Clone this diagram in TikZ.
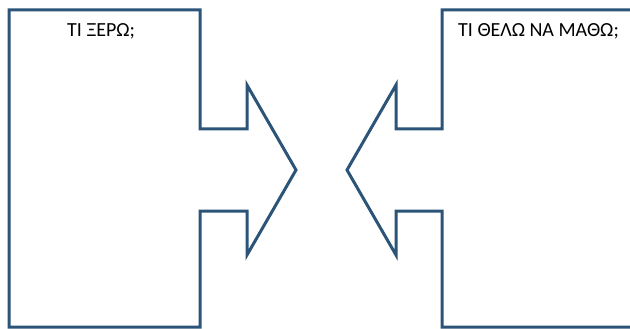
\documentclass[tikz,border=0pt]{standalone}
\usepackage{fontspec}
\setmainfont{Carlito}
\definecolor{shapeblue}{RGB}{44,84,120}
\begin{document}
\begin{tikzpicture}[x=1pt,y=-1pt,
  outline/.style={draw=shapeblue,line width=3pt,line join=miter},
  headtxt/.style={anchor=base west,inner sep=0pt,font=\fontsize{20}{24}\selectfont,text=black}]
\useasboundingbox (0,0) rectangle (630,329);
\clip (0,0) rectangle (630,329);
\fill[white] (0,0) rectangle (630,329);
% left shape
\draw[outline] (9,10) -- (200,10) -- (200,129) -- (247,129) -- (247,85) -- (296,170)
  -- (247,255) -- (247,211) -- (200,211) -- (200,327) -- (9,327) -- cycle;
% right shape
\draw[outline] (645,10) -- (442,10) -- (442,129) -- (396,129) -- (396,85) -- (347,170)
  -- (396,255) -- (396,211) -- (442,211) -- (442,327) -- (645,327);
\node[headtxt] (know) at (67,37) {ΤΙ ΞΕΡΩ;};
\node[headtxt] (learn) at (458,37) {ΤΙ ΘΕΛΩ ΝΑ ΜΑΘΩ;};
\end{tikzpicture}
\end{document}
